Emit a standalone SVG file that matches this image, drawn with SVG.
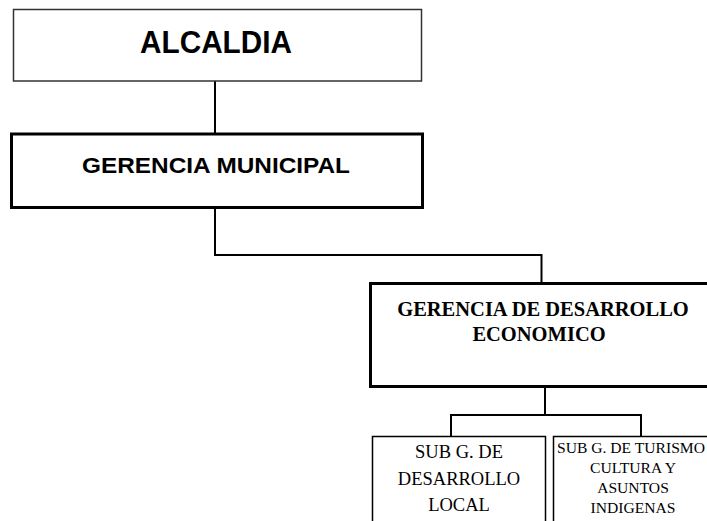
<svg xmlns="http://www.w3.org/2000/svg" width="707" height="521" viewBox="0 0 707 521">
<style>
.box{fill:#fff;stroke:#000}
.thin{stroke:#333;stroke-width:1.5}
.thick{stroke-width:3}
.sans{font-family:"Liberation Sans",Arial,sans-serif;font-weight:bold;text-anchor:middle;fill:#000}
.serif{font-family:"Liberation Serif","Times New Roman",serif;text-anchor:middle;fill:#000}
.conn{fill:none;stroke:#000;stroke-width:2}
</style>
<rect width="707" height="521" fill="#fff"/>
<g id="connectors">
<path class="conn" d="M215 81V134"/>
<path class="conn" d="M215 207V255H541.5V283"/>
<path class="conn" d="M545 387V415M451 436V415H641V436"/>
</g>
<g id="alcaldia">
<rect class="box thin" x="13.5" y="9.5" width="408" height="71.5"/>
<text class="sans" x="216" y="53" font-size="31" textLength="152" lengthAdjust="spacingAndGlyphs">ALCALDIA</text>
</g>
<g id="gerencia-municipal">
<rect class="box thick" x="11.5" y="134" width="411" height="73.5"/>
<text class="sans" x="216" y="173" font-size="22.5" textLength="268" lengthAdjust="spacingAndGlyphs">GERENCIA MUNICIPAL</text>
</g>
<g id="gerencia-desarrollo">
<rect class="box thick" x="370.5" y="283.5" width="345" height="103"/>
<text class="serif" font-weight="bold" font-size="20.5" x="543" y="316">GERENCIA DE DESARROLLO</text>
<text class="serif" font-weight="bold" font-size="20.5" x="539" y="341">ECONOMICO</text>
</g>
<g id="sub-desarrollo-local">
<rect class="box" stroke-width="1.5" x="372.5" y="436.5" width="173" height="100"/>
<text class="serif" font-size="18.5" x="459" y="458">SUB G. DE</text>
<text class="serif" font-size="18.5" x="459" y="485">DESARROLLO</text>
<text class="serif" font-size="18.5" x="459" y="511">LOCAL</text>
</g>
<g id="sub-turismo">
<rect class="box" stroke-width="1.5" x="553.5" y="436.5" width="160" height="100"/>
<text class="serif" font-size="15.6" x="631" y="453">SUB G. DE TURISMO</text>
<text class="serif" font-size="15.6" x="633" y="473">CULTURA Y</text>
<text class="serif" font-size="15.6" x="633" y="493">ASUNTOS</text>
<text class="serif" font-size="15.6" x="633" y="513">INDIGENAS</text>
</g>
</svg>
